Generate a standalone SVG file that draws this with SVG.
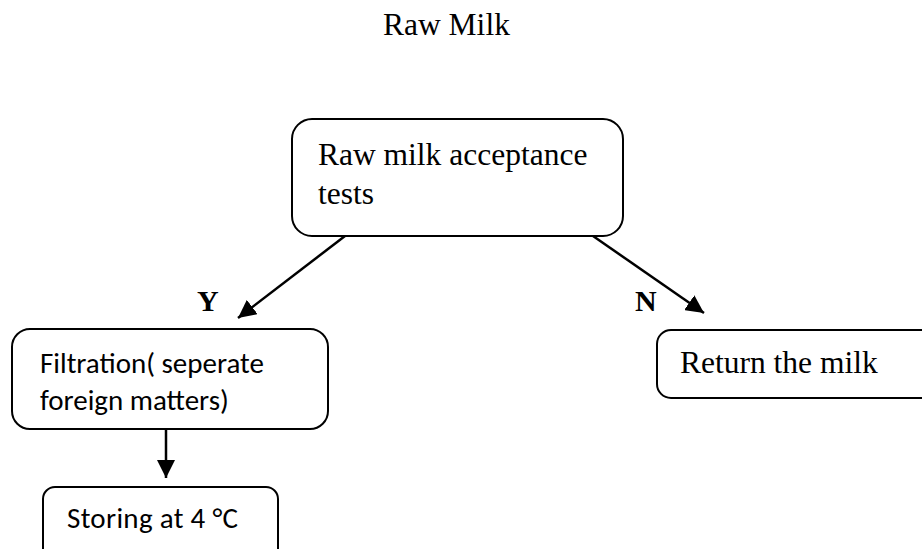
<svg xmlns="http://www.w3.org/2000/svg" width="922" height="549" viewBox="0 0 922 549">
<style>
.box{fill:#fff;stroke:#000;stroke-width:2}
.t{font-family:"Liberation Serif","Times New Roman",serif;font-size:31.5px;fill:#000}
.b{font-family:"Liberation Serif","Times New Roman",serif;font-size:30px;font-weight:bold;fill:#000}
.c{font-family:Carlito,"Open Sans","Liberation Sans",sans-serif;font-size:29px;fill:#000}
.ln{stroke:#000;stroke-width:2.5;fill:none}
</style>
<defs>
<marker id="ah2" viewBox="0 0 10 10" refX="10" refY="5" markerWidth="18" markerHeight="18" markerUnits="userSpaceOnUse" orient="auto">
<path d="M0,0 L10,5 L0,10 z" fill="#000"/>
</marker>
</defs>
<text id="title" class="t" x="383" y="35">Raw Milk</text>
<g id="connectors">
<line class="ln" x1="345" y1="236" x2="238" y2="318" marker-end="url(#ah2)"/>
<line class="ln" x1="593" y1="236" x2="704" y2="313" marker-end="url(#ah2)"/>
<line class="ln" x1="166" y1="429" x2="166" y2="478" marker-end="url(#ah2)"/>
<text class="b" x="197" y="311">Y</text>
<text class="b" x="635" y="311">N</text>
</g>
<g id="n-accept">
<rect class="box" x="292" y="119" width="331" height="117" rx="20"/>
<text class="t" x="318" y="165">Raw milk acceptance</text>
<text class="t" x="318" y="204">tests</text>
</g>
<g id="n-filter">
<rect class="box" x="12" y="329" width="316" height="100" rx="18"/>
<text class="c" x="40" y="373">Filtration( seperate</text>
<text class="c" x="40" y="410">foreign matters)</text>
</g>
<g id="n-return">
<rect class="box" x="657" y="330" width="290" height="68" rx="14"/>
<text class="t" x="680" y="373">Return the milk</text>
</g>
<g id="n-store">
<rect class="box" x="43" y="487" width="235" height="80" rx="12"/>
<text class="c" x="67" y="528" textLength="171">Storing at 4 °C</text>
</g>
</svg>
